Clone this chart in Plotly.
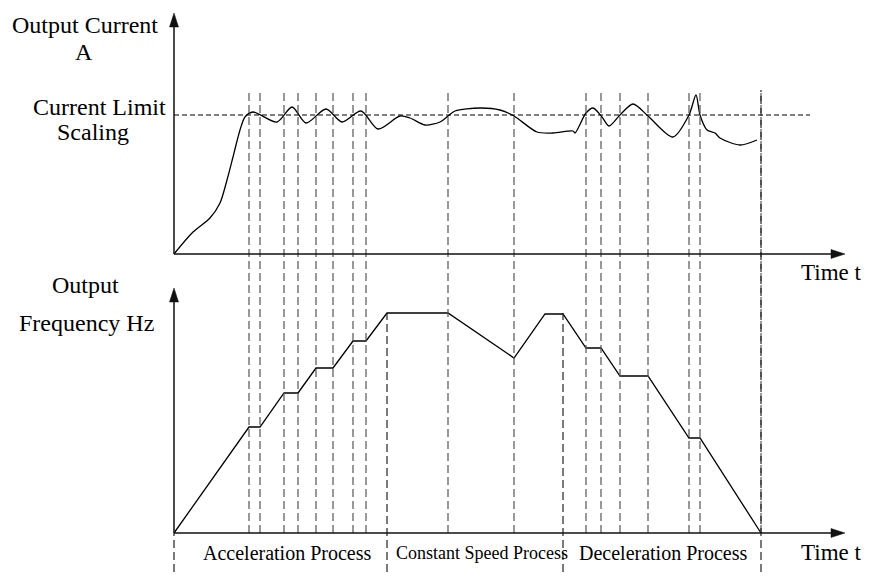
import plotly.graph_objects as go

# ---------------- data (arbitrary time / value units) ----------------
current_t = [0, 19, 36, 46, 53, 59, 66, 71, 79, 103, 118, 132, 152, 168, 187, 204, 226, 236,
             251, 266, 274, 281, 306, 326, 340, 363, 379, 399, 401, 412, 419, 428, 435, 446,
             459, 474, 499, 515, 522, 526, 533, 541, 546, 566, 583]
current_a = [0, 22, 36, 51, 74, 97, 124, 137, 142, 132, 147, 131, 145, 132, 143, 125, 138, 136,
             129, 132, 138, 143, 146, 144, 138, 122, 121, 123, 121, 141, 146, 137, 128, 139,
             150, 138, 117, 139, 159, 139, 124, 121, 116, 109, 114]
current_limit = 139

freq_t = [0, 75, 86, 110, 124, 142, 159, 179, 192, 213, 274, 340, 371, 389, 412, 427, 446, 474, 515, 526, 587]
freq_hz = [0, 106, 106, 140, 140, 165, 165, 192, 192, 220, 220, 175, 219, 219, 185, 185, 157, 157, 95, 95, 0]

event_t = [75, 86, 110, 124, 142, 159, 179, 192, 274, 340, 412, 427, 446, 474, 515, 526, 587]
phase_t = [0, 213, 389, 587]          # boundaries of the three processes
phase_labels = ["Acceleration Process", "Constant Speed Process", "Deceleration Process"]

# ---------------- figure ----------------
SHIFT = 8                 # page body margin
W, H = 870 - 2 * SHIFT, 580 - 2 * SHIFT
X0 = 174 - SHIFT          # figure pixel of t = 0
Y_TOP_AX = 254            # page pixel of top x-axis
Y_BOT_AX = 533            # page pixel of bottom x-axis
t_end = 671               # axis arrow tip (time units)

fig = go.Figure()
fig.add_trace(go.Scatter(x=current_t, y=current_a, mode="lines", xaxis="x", yaxis="y",
                         line=dict(color="black", width=1.3, shape="spline", smoothing=0.8),
                         hoverinfo="skip"))
fig.add_trace(go.Scatter(x=[0, 636], y=[current_limit, current_limit], mode="lines",
                         xaxis="x", yaxis="y",
                         line=dict(color="black", width=1.1, dash="5px,3px"), hoverinfo="skip"))
fig.add_trace(go.Scatter(x=freq_t, y=freq_hz, mode="lines", xaxis="x", yaxis="y2",
                         line=dict(color="black", width=1.3), hoverinfo="skip"))

def paper(py):
    return 1 - (py - SHIFT) / H

shapes = []
dash_col = "#555555"
for t in event_t:
    shapes.append(dict(type="line", xref="x", yref="paper", x0=t, x1=t,
                       y0=paper(Y_BOT_AX), y1=paper(90),
                       line=dict(color=dash_col, width=1.2, dash="8px,4px")))
# lines marking the process boundaries (run down through the label row)
for t in phase_t:
    top = 90 if t == phase_t[-1] else (Y_BOT_AX if t == 0 else 313)
    shapes.append(dict(type="line", xref="x", yref="paper", x0=t, x1=t,
                       y0=0, y1=paper(top),
                       line=dict(color="#222222", width=1.2, dash="8px,4px")))

def axis(xref, yref, tip_x, tip_y, dx, dy):
    col = "#111111"
    shapes.append(dict(type="line", xref=xref, yref=yref, x0=0, y0=0,
                       x1=tip_x - dx * 10, y1=tip_y - dy * 10,
                       line=dict(color=col, width=1.5)))
    L, Wd = 14, 4.5
    bx, by = tip_x - dx * L, tip_y - dy * L
    px, py = -dy, dx
    path = (f"M{tip_x},{tip_y} L{bx + Wd * px},{by + Wd * py} "
            f"L{bx - Wd * px},{by - Wd * py} Z")
    shapes.append(dict(type="path", xref=xref, yref=yref, path=path,
                       fillcolor=col, line=dict(color=col, width=0.5)))

axis("x", "y", 0, 241, 0, 1)
axis("x", "y", t_end, 0, 1, 0)
axis("x", "y2", 0, 245, 0, 1)
axis("x", "y2", t_end, 0, 1, 0)

family = "Liberation Serif, Times New Roman, serif"
ann = []
def label(text, x, y, yref, size=24):
    ann.append(dict(text=text, x=x, y=y, xref="x", yref=yref, showarrow=False,
                    xanchor="center", yanchor="middle",
                    font=dict(family=family, color="black", size=size)))

label("Output Current", -89, 229, "y")
label("A", -90, 202, "y")
label("Current Limit", -75, 147, "y")
label("Scaling", -81, 122, "y")
label("Time t", 657, -18, "y", size=23)
label("Output", -89, 248, "y2")
label("Frequency Hz", -88, 210, "y2")
label("Time t", 657, -19, "y2", size=23)
sizes = [20, 18, 20]
centers = [113, 308, 489]
for txt, cx, s in zip(phase_labels, centers, sizes):
    label(txt, cx, -20, "y2", size=s)

fig.update_layout(
    width=W, height=H,
    margin=dict(l=0, r=0, t=0, b=0),
    paper_bgcolor="white", plot_bgcolor="white",
    showlegend=False,
    xaxis=dict(range=[-X0, W - X0], visible=False, fixedrange=True),
    yaxis=dict(domain=[0.48, 1],
               range=[Y_TOP_AX - SHIFT - 0.52 * H, Y_TOP_AX - SHIFT], visible=False),
    yaxis2=dict(domain=[0, 0.52],
                range=[Y_BOT_AX - SHIFT - H, Y_BOT_AX - SHIFT - 0.48 * H], visible=False),
    shapes=shapes,
    annotations=ann,
)

fig.write_html("out.html")
